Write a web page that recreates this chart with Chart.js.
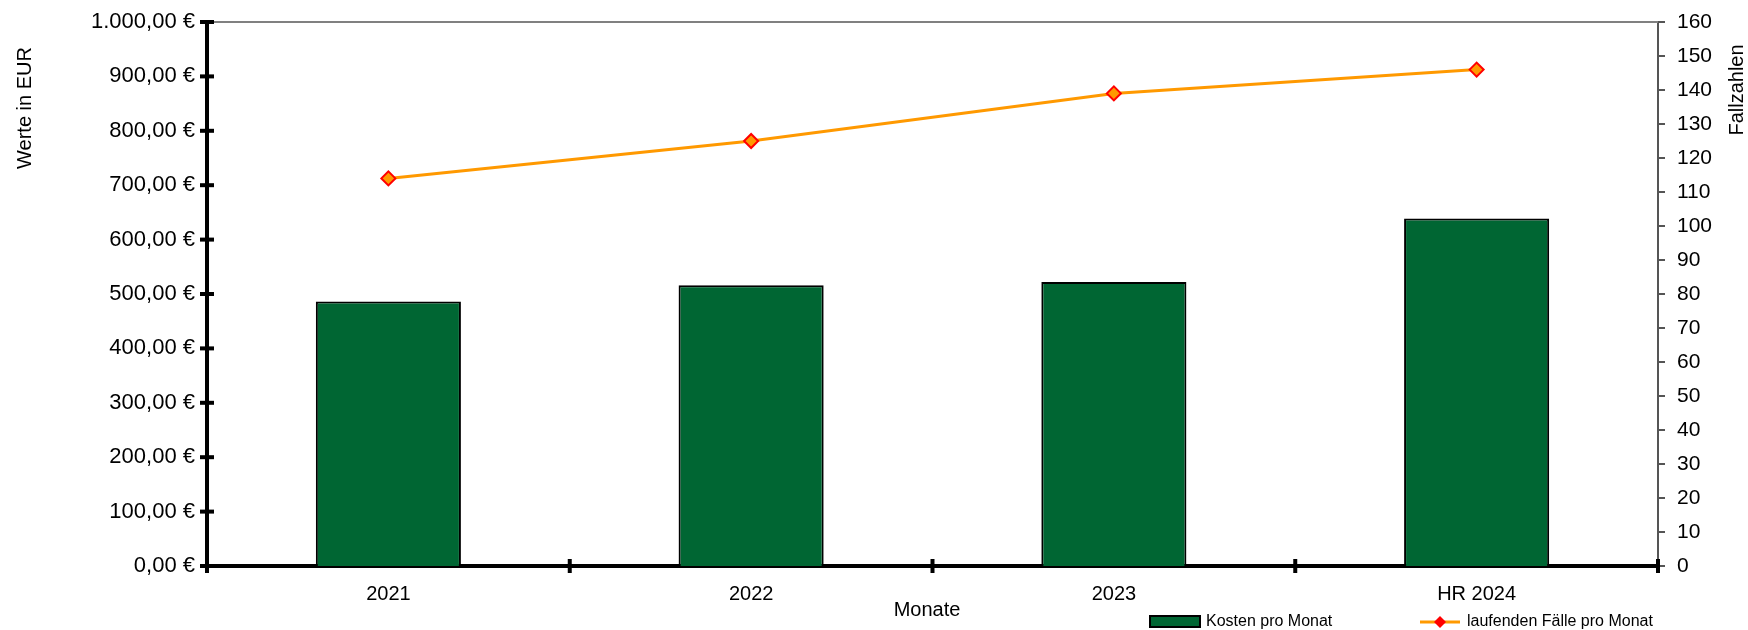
<!DOCTYPE html>
<html>
<head>
<meta charset="utf-8">
<script src="https://cdn.jsdelivr.net/npm/chart.js@4"></script>
<style>
  html, body { margin: 0; padding: 0; background: #fff; }
  #wrap { position: relative; width: 1748px; height: 630px; }
</style>
</head>
<body>
<div id="wrap"><canvas id="chart" width="1748" height="630"></canvas></div>
<script>
const categories = ['2021', '2022', '2023', 'HR 2024'];
const kostenProMonat = [486, 516, 522, 639];
const laufendeFaelle = [114, 125, 139, 146];
const euroTicks = [0, 100, 200, 300, 400, 500, 600, 700, 800, 900, 1000];
const fallTicks = [0, 10, 20, 30, 40, 50, 60, 70, 80, 90, 100, 110, 120, 130, 140, 150, 160];

const FONT = '"Liberation Sans", Arial, sans-serif';
const GREEN = '#006633';
const ORANGE = '#FF9900';

function euro(v) {
   const parts = v.toFixed(2).split('.');
   const whole = parts[0].replace(/\B(?=(\d{3})+(?!\d))/g, '.');
   return whole + ',' + parts[1] + ' €';
}

// axis tick marks, frame, titles and legend
const decorations = {
   id: 'decorations',
   afterDatasetsDraw(chart) {
      const ctx = chart.ctx;
      const { left, right, top, bottom } = chart.chartArea;
      const y = chart.scales.y, y1 = chart.scales.y1;
      ctx.save();

      // top frame line
      ctx.strokeStyle = '#808080';
      ctx.lineWidth = 2;
      ctx.beginPath();
      ctx.moveTo(left, top);
      ctx.lineTo(right, top);
      ctx.stroke();

      // right axis ticks
      ctx.strokeStyle = '#555555';
      ctx.lineWidth = 2;
      fallTicks.forEach(v => {
         const py = y1.getPixelForValue(v);
         ctx.beginPath();
         ctx.moveTo(right, py);
         ctx.lineTo(right + 7, py);
         ctx.stroke();
      });

      // left axis ticks
      ctx.strokeStyle = '#000';
      ctx.lineWidth = 4;
      euroTicks.forEach(v => {
         const py = y.getPixelForValue(v);
         ctx.beginPath();
         ctx.moveTo(left - 7, py);
         ctx.lineTo(left + 7, py);
         ctx.stroke();
      });

      // category boundary ticks on x axis
      const step = (right - left) / categories.length;
      for (let i = 0; i <= categories.length; i++) {
         const px = left + i * step;
         ctx.beginPath();
         ctx.moveTo(px, bottom - 7);
         ctx.lineTo(px, bottom + 7);
         ctx.stroke();
      }

      // axis titles
      ctx.fillStyle = '#000';
      ctx.font = '20px ' + FONT;
      ctx.textAlign = 'center';
      ctx.textBaseline = 'middle';
      ctx.fillText('Monate', 927, 610);

      ctx.save();
      ctx.translate(25, 108);
      ctx.rotate(-Math.PI / 2);
      ctx.fillText('Werte in EUR', 0, 0);
      ctx.restore();

      ctx.save();
      ctx.translate(1737, 90);
      ctx.rotate(-Math.PI / 2);
      ctx.fillText('Fallzahlen', 0, 0);
      ctx.restore();

      // legend
      ctx.font = '16px ' + FONT;
      ctx.textAlign = 'left';
      ctx.fillStyle = GREEN;
      ctx.strokeStyle = '#000';
      ctx.lineWidth = 2;
      ctx.fillRect(1150, 616, 50, 11);
      ctx.strokeRect(1150, 616, 50, 11);
      ctx.fillStyle = '#000';
      ctx.fillText('Kosten pro Monat', 1206, 622);

      ctx.strokeStyle = ORANGE;
      ctx.lineWidth = 3;
      ctx.beginPath();
      ctx.moveTo(1420, 622);
      ctx.lineTo(1460, 622);
      ctx.stroke();
      ctx.fillStyle = '#FF0000';
      ctx.beginPath();
      ctx.moveTo(1440, 616);
      ctx.lineTo(1446, 622);
      ctx.lineTo(1440, 628);
      ctx.lineTo(1434, 622);
      ctx.closePath();
      ctx.fill();
      ctx.fillStyle = '#000';
      ctx.fillText('laufenden Fälle pro Monat', 1467, 622);

      ctx.restore();
   }
};

new Chart(document.getElementById('chart').getContext('2d'), {
   data: {
      labels: categories,
      datasets: [
         {
            type: 'line',
            label: 'laufenden Fälle pro Monat',
            data: laufendeFaelle,
            yAxisID: 'y1',
            borderColor: ORANGE,
            borderWidth: 3,
            tension: 0,
            pointStyle: 'rectRot',
            pointRadius: 7,
            pointBackgroundColor: ORANGE,
            pointBorderColor: '#FF0000',
            pointBorderWidth: 2,
            order: 1
         },
         {
            type: 'bar',
            label: 'Kosten pro Monat',
            data: kostenProMonat,
            yAxisID: 'y',
            backgroundColor: GREEN,
            borderColor: '#000',
            borderWidth: 2,
            barPercentage: 0.8,
            categoryPercentage: 0.5,
            order: 2
         }
      ]
   },
   options: {
      responsive: false,
      animation: false,
      devicePixelRatio: 1,
      layout: { padding: { top: 22, left: 0, right: 0, bottom: 0 } },
      plugins: {
         legend: { display: false },
         tooltip: { enabled: false }
      },
      scales: {
         x: {
            grid: { display: false, drawTicks: false },
            border: { display: true, color: '#000', width: 4 },
            ticks: {
               color: '#000',
               padding: 16,
               maxRotation: 0,
               font: { family: FONT, size: 20 }
            },
            afterFit(scale) {
               scale.height = 64;
               scale.paddingLeft = 0;
               scale.paddingRight = 0;
            }
         },
         y: {
            position: 'left',
            min: 0,
            max: 1000,
            afterBuildTicks(scale) { scale.ticks = euroTicks.map(v => ({ value: v })); },
            grid: { display: false, drawTicks: false },
            border: { display: true, color: '#000', width: 4 },
            ticks: {
               color: '#000',
               padding: 12,
               font: { family: FONT, size: 22 },
               callback: v => euro(v)
            },
            afterFit(scale) {
               scale.width = 207;
               scale.paddingTop = 0;
               scale.paddingBottom = 0;
            }
         },
         y1: {
            position: 'right',
            min: 0,
            max: 160,
            afterBuildTicks(scale) { scale.ticks = fallTicks.map(v => ({ value: v })); },
            grid: { display: false, drawTicks: false },
            border: { display: true, color: '#555555', width: 2 },
            ticks: {
               color: '#000',
               padding: 19,
               font: { family: FONT, size: 21 }
            },
            afterFit(scale) {
               scale.width = 90;
               scale.paddingTop = 0;
               scale.paddingBottom = 0;
            }
         }
      }
   },
   plugins: [decorations]
});
</script>
</body>
</html>
